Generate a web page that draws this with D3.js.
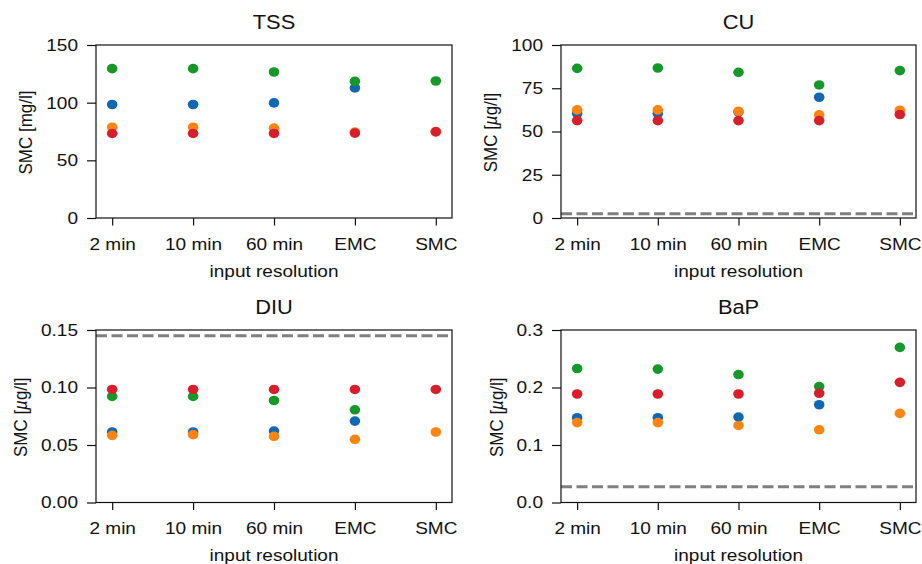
<!DOCTYPE html>
<head>
  <meta charset="utf-8">
  <script src="https://d3js.org/d3.v7.min.js"></script>
  <style>
    body { margin:0; background:#fff; }
    svg { display:block; }
    text { font-family: "Liberation Sans", Arial, sans-serif; fill:#111; }
  </style>
</head>

<body>
  <script>
    // data
    var categories = ["2 min", "10 min", "60 min", "EMC", "SMC"];
    var seriesColors = ["#1167b1", "#ff8412", "#16972a", "#d61f2b"];

    var tssBlue   = [98.4, 98.4, 99.8, 112.8, null],
        tssOrange = [78.7, 78.7, 77.9, 74.5, 75.0],
        tssGreen  = [129.5, 129.5, 126.6, 118.5, 118.8],
        tssRed    = [73.3, 73.3, 73.3, 73.6, 74.7];

    var cuBlue   = [60.4, 60.4, 61.2, 69.8, null],
        cuOrange = [62.5, 62.5, 61.7, 59.6, 62.3],
        cuGreen  = [86.5, 86.7, 84.2, 76.9, 85.2],
        cuRed    = [56.3, 56.3, 56.3, 56.3, 59.8];

    var diuBlue   = [0.0613, 0.0613, 0.0621, 0.0708, null],
        diuOrange = [0.0584, 0.0590, 0.0575, 0.0549, 0.0613],
        diuGreen  = [0.0922, 0.0922, 0.0887, 0.0806, null],
        diuRed    = [0.0983, 0.0983, 0.0983, 0.0983, 0.0983];

    var bapBlue   = [0.1474, 0.1474, 0.1485, 0.170, null],
        bapOrange = [0.139, 0.139, 0.134, 0.1264, 0.155],
        bapGreen  = [0.233, 0.232, 0.2225, 0.2016, 0.2697],
        bapRed    = [0.1887, 0.1887, 0.1887, 0.190, 0.209];

    var titles = ["TSS", "CU", "DIU", "BaP"];
    var units = ["mg/l", "µg/l", "µg/l", "µg/l"];
    var yMax = [150, 100, 0.15, 0.3];
    var yTicks = [[0, 50, 100, 150], [0, 25, 50, 75, 100], [0, 0.05, 0.10, 0.15], [0, 0.1, 0.2, 0.3]];
    var yFormats = ["d", "d", ".2f", ".1f"];
    var limits = [null, 2.5, 0.145, 0.0274];
    var values = [
      [tssBlue, tssOrange, tssGreen, tssRed],
      [cuBlue, cuOrange, cuGreen, cuRed],
      [diuBlue, diuOrange, diuGreen, diuRed],
      [bapBlue, bapOrange, bapGreen, bapRed]
    ];

    // layout
    var W = 922, H = 564, sx = 1.12;
    var boxes = [
      {x0: 96, x1: 452, y0: 45, y1: 218},
      {x0: 561, x1: 916, y0: 45, y1: 218},
      {x0: 96, x1: 452, y0: 330, y1: 502.5},
      {x0: 561, x1: 916, y0: 330, y1: 502.5}
    ];

    var svg = d3.select("body").append("svg")
        .attr("width", W).attr("height", H);

    boxes.forEach(function(b, p) {
      var g = svg.append("g");

      var x = d3.scalePoint().domain(categories).range([b.x0, b.x1]).padding(0.2);
      var y = d3.scaleLinear().domain([0, yMax[p]]).range([b.y1, b.y0]);

      // limit line
      if (limits[p] != null) {
        g.append("line")
          .attr("x1", b.x0).attr("x2", b.x1)
          .attr("y1", y(limits[p])).attr("y2", y(limits[p]))
          .attr("stroke", "#808080").attr("stroke-width", 3)
          .attr("stroke-dasharray", "11,4.5");
      }

      // dots, drawn series by series
      values[p].forEach(function(ser, s) {
        g.selectAll(null)
          .data(ser.map(function(v, i) { return {c: categories[i], v: v}; })
                   .filter(function(d) { return d.v != null; }))
          .enter().append("ellipse")
            .attr("cx", function(d) { return x(d.c); })
            .attr("cy", function(d) { return y(d.v); })
            .attr("rx", 5.3).attr("ry", 4.8)
            .attr("fill", seriesColors[s]);
      });

      // frame
      g.append("rect")
        .attr("x", b.x0).attr("y", b.y0)
        .attr("width", b.x1 - b.x0).attr("height", b.y1 - b.y0)
        .attr("fill", "none").attr("stroke", "#111").attr("stroke-width", 1.2);

      // axes
      var ax = g.append("g").attr("transform", "translate(0," + b.y1 + ")")
        .call(d3.axisBottom(x).tickSize(7.5).tickSizeOuter(0).tickPadding(12));
      var ay = g.append("g").attr("transform", "translate(" + b.x0 + ",0)")
        .call(d3.axisLeft(y).tickValues(yTicks[p]).tickFormat(d3.format(yFormats[p]))
              .tickSize(9).tickSizeOuter(0).tickPadding(9));

      [ax, ay].forEach(function(a) {
        a.select(".domain").remove();
        a.selectAll(".tick line").attr("stroke", "#111").attr("stroke-width", 1.2);
        a.selectAll(".tick text").style("font-size", "17px").attr("fill", "#111");
      });
      ax.selectAll(".tick text").attr("transform", "scale(" + sx + ",1)");
      ay.selectAll(".tick text").attr("x", 0)
        .attr("transform", "translate(-18,0) scale(" + sx + ",1)");

      // title
      g.append("text")
        .attr("transform", "translate(" + ((b.x0 + b.x1) / 2) + "," + (b.y0 - 16.5) + ") scale(" + sx + ",1)")
        .attr("text-anchor", "middle")
        .style("font-size", "19.5px")
        .text(titles[p]);

      // x label
      g.append("text")
        .attr("transform", "translate(" + ((b.x0 + b.x1) / 2) + "," + (b.y1 + 58.5) + ") scale(" + sx + ",1)")
        .attr("text-anchor", "middle")
        .style("font-size", "17px")
        .text("input resolution");

      // y label, placed left of the widest tick label
      var left = d3.min(ay.selectAll(".tick text").nodes(), function(n) {
        return n.getBoundingClientRect().left;
      });
      var yl = g.append("text")
        .attr("transform", "translate(" + (left - 14) + "," + ((b.y0 + b.y1) / 2 + 1) + ") scale(" + sx + ",1) rotate(-90)")
        .attr("text-anchor", "middle")
        .style("font-size", "17px");
      yl.append("tspan").text("SMC [");
      if (units[p] == "mg/l") {
        yl.append("tspan").text("mg/l");
      } else {
        yl.append("tspan").style("font-style", "italic").text("µ");
        yl.append("tspan").text("g/l");
      }
      yl.append("tspan").text("]");
    });
  </script>
</body>

</html>
